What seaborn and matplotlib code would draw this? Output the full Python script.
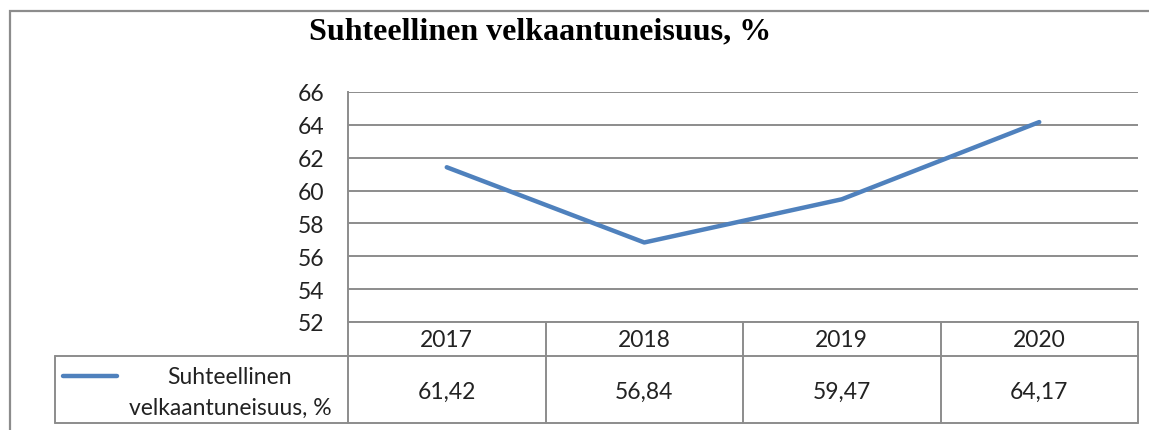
import matplotlib
matplotlib.use('Agg')
import matplotlib.pyplot as plt
import seaborn as sns
import pandas as pd
from matplotlib.lines import Line2D
from matplotlib.patches import Rectangle
from matplotlib.transforms import blended_transform_factory

# data
years = ['2017', '2018', '2019', '2020']
values = [61.42, 56.84, 59.47, 64.17]
value_labels = ['61,42', '56,84', '59,47', '64,17']
series_name = 'Suhteellinen velkaantuneisuus, %'
legend_lines = ['Suhteellinen', 'velkaantuneisuus, %']
y_ticks = [52, 54, 56, 58, 60, 62, 64, 66]

W, H = 1149, 431
GRID = '#8c8c8c'
BLUE = '#4F81BD'
TXT = '#222222'
FS = 16.5

sns.set_theme(style='white')
plt.rcParams['font.family'] = ['Lato', 'DejaVu Sans']

def fx(px):
    return px / W

def fy(py):
    return 1 - py / H

fig = plt.figure(figsize=(W / 100, H / 100), dpi=100)
ax = fig.add_axes([fx(348), fy(323), (1138 - 348) / W, (323 - 93) / H])

df = pd.DataFrame({'pos': range(len(years)), 'value': values})
sns.lineplot(data=df, x='pos', y='value', ax=ax, color=BLUE, linewidth=3.2,
             solid_capstyle='round')

ax.set_xlim(-0.5, len(years) - 0.5)
ax.set_ylim(min(y_ticks), max(y_ticks))
ax.set_yticks(y_ticks)
ax.set_yticklabels([str(t) for t in y_ticks], fontsize=FS, color=TXT)
ax.set_xticks([])
ax.set_xlabel('')
ax.set_ylabel('')
ax.yaxis.grid(True, color=GRID, lw=1.4)
ax.tick_params(axis='y', length=0, pad=17)
for s in ['top', 'right']:
    ax.spines[s].set_visible(False)
for s in ['left', 'bottom']:
    ax.spines[s].set_color(GRID)
    ax.spines[s].set_linewidth(1.4)

# title
fig.text(fx(540), fy(32), series_name, ha='center', va='center',
         family='Liberation Serif', weight='bold', fontsize=23, color='black')

# outer chart border
fig.patches.append(Rectangle((fx(10), -0.2), 1.5, fy(12) + 0.2, transform=fig.transFigure,
                             fill=False, edgecolor=GRID, lw=1.6))

# data table below the axis
tr = blended_transform_factory(ax.transData, fig.transFigure)
bounds = [i - 0.5 for i in range(len(years) + 1)]
for b in bounds:
    fig.lines.append(Line2D([b, b], [fy(323), fy(424)], transform=tr, color=GRID, lw=1.4))
for yy in [357, 424]:
    fig.lines.append(Line2D([fx(55), fx(1138)], [fy(yy), fy(yy)], transform=fig.transFigure,
                            color=GRID, lw=1.4))
fig.lines.append(Line2D([fx(55), fx(55)], [fy(357), fy(424)], transform=fig.transFigure,
                        color=GRID, lw=1.4))

for i, (yr, lab) in enumerate(zip(years, value_labels)):
    ax.text(i, fy(341), yr, transform=tr, ha='center', va='center', fontsize=FS,
            color=TXT, clip_on=False)
    ax.text(i, fy(392), lab, transform=tr, ha='center', va='center', fontsize=FS,
            color=TXT, clip_on=False)

# legend key in table
fig.lines.append(Line2D([fx(63), fx(117)], [fy(377), fy(377)], transform=fig.transFigure,
                        color=BLUE, lw=3.2, solid_capstyle='round'))
fig.text(fx(230), fy(378), legend_lines[0], ha='center', va='center', fontsize=FS, color=TXT)
fig.text(fx(230), fy(408), legend_lines[1], ha='center', va='center', fontsize=FS, color=TXT)

fig.savefig('out.png', dpi=100)
